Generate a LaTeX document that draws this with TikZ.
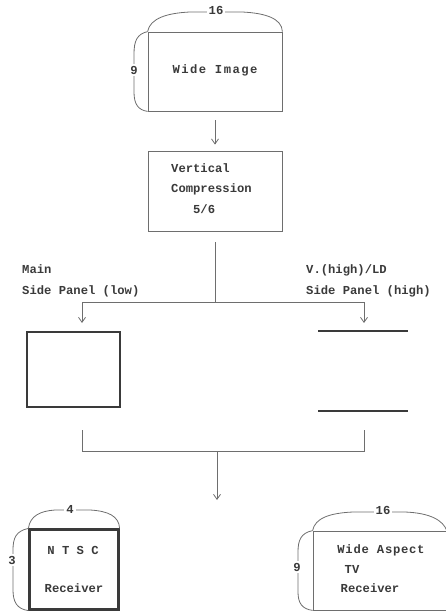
\documentclass[tikz,border=0pt]{standalone}
\usepackage{fontspec}
\setmonofont{Liberation Mono}
\usetikzlibrary{arrows.meta}
\definecolor{ink}{HTML}{3A3A3A}
\definecolor{rule}{HTML}{6E6E6E}
\begin{document}
\begin{tikzpicture}[x=1pt,y=-1pt,
  txt/.style={font=\ttfamily\bfseries\fontsize{12.2}{20.5}\selectfont, text=ink, inner sep=0pt},
  widetxt/.style={txt, font=\ttfamily\bfseries\fontsize{12.2}{20.5}\selectfont\addfontfeature{LetterSpace=12}},
  frame/.style={draw=rule, line width=0.8pt, inner sep=0pt},
  heavyframe/.style={draw=ink, line width=2.2pt, inner sep=0pt},
  conn/.style={draw=rule, line width=0.8pt},
  arr/.style={conn, -{Straight Barb[length=5pt,width=7pt]}},
  dim/.style={draw=rule, line width=0.8pt},
  dimlbl/.style={txt, fill=white, inner sep=2pt},
  panelbar/.style={draw=ink, line width=2pt},
]
\useasboundingbox (0,0) rectangle (445,612);

% ---- source picture, 16:9 ----
\node[frame, minimum width=134pt, minimum height=79pt] (wide) at (215,71.5) {};
\node[widetxt] (widetxt) at (215,70) {Wide Image};
\draw[dim] (wide.north west) .. controls (150,18) and (168,13) .. (190,12)
  -- (242,12) .. controls (264,13) and (282,18) .. (wide.north east);
\node[dimlbl] (wide16) at (216,10) {16};
\draw[dim] (wide.north west) .. controls (137,34) and (134,41) .. (134,54)
  -- (134,92) .. controls (134,104) and (138,110) .. (wide.south west);
\node[dimlbl] (wide9) at (134,70) {9};

% ---- vertical compression ----
\node[frame, minimum width=134pt, minimum height=80pt] (comp) at (215,191) {};
\node[txt, align=left, anchor=north west] (comptxt) at (171,163)
  {Vertical\\Compression\\\phantom{Com}5/6};
\draw[arr, shorten <=9pt, shorten >=6pt] (wide.south) -- (comp.north);

% ---- split into main and side panels ----
\coordinate (split) at (215,302);
\coordinate (lowturn) at (82,302);
\coordinate (lowtip) at (82,323);
\coordinate (highturn) at (364,302);
\coordinate (hightip) at (364,323);
\draw[conn] ([yshift=-11pt]comp.south) -- (split);
\draw[arr] (split) -- (lowturn) -- (lowtip);
\draw[arr] (split) -- (highturn) -- (hightip);

\node[txt, align=left, anchor=west] (lowlbl) at (22,281) {Main\\Side Panel (low)};
\node[txt, align=left, anchor=west] (highlbl) at (306,281) {V.(high)/LD\\Side Panel (high)};

% main panel (low band)
\node[heavyframe, minimum width=93pt, minimum height=75pt] (mainpanel) at (73.5,369.5) {};
% side panels (high band)
\draw[panelbar] (318,331) -- (408,331);
\draw[panelbar] (318,410.5) -- (408,410.5);

% ---- recombination ----
\coordinate (lowfoot) at (82,430);
\coordinate (lowjoin) at (82,451);
\coordinate (highfoot) at (364,430);
\coordinate (highjoin) at (364,451);
\coordinate (mid) at (217,451);
\coordinate (out) at (217,500);
\draw[conn] (lowfoot) -- (lowjoin) -- (highjoin) -- (highfoot);
\draw[arr] (mid) -- (out);

% ---- NTSC receiver, 4:3 ----
\node[heavyframe, minimum width=89pt, minimum height=80pt] (ntsc) at (74,569.5) {};
\node[txt] (ntsctxt) at (73,550) {N T S C};
\node[txt] (ntscrx) at (74,588) {Receiver};
\draw[dim] (ntsc.north west) .. controls (30,516) and (40,511) .. (55,510)
  -- (90,510) .. controls (108,511) and (119,516) .. (ntsc.north east);
\node[dimlbl] (ntsc4) at (70,509) {4};
\draw[dim] (ntsc.north west) .. controls (16,531) and (13,538) .. (13,550)
  -- (13,590) .. controls (13,602) and (17,609) .. (ntsc.south west);
\node[dimlbl] (ntsc3) at (12,560) {3};

% ---- wide aspect receiver, 16:9 ----
\node[frame, minimum width=140pt, minimum height=79pt] (wat) at (383,570.5) {};
\node[txt, font=\ttfamily\bfseries\fontsize{12.2}{20.5}\selectfont\addfontfeature{LetterSpace=6}] (wattxt) at (381,550) {Wide Aspect};
\node[txt] (wattv) at (352,569) {TV};
\node[txt] (watrx) at (370,588) {Receiver};
\draw[dim] (wat.north west) .. controls (315,518) and (330,513) .. (353,512)
  -- (405,512) .. controls (430,513) and (443,520) .. (447,531);
\node[dimlbl] (wat16) at (383,510) {16};
\draw[dim] (wat.north west) .. controls (301,533) and (298,540) .. (298,552)
  -- (298,592) .. controls (298,603) and (302,609) .. (wat.south west);
\node[dimlbl] (wat9) at (297,567) {9};
\end{tikzpicture}
\end{document}
